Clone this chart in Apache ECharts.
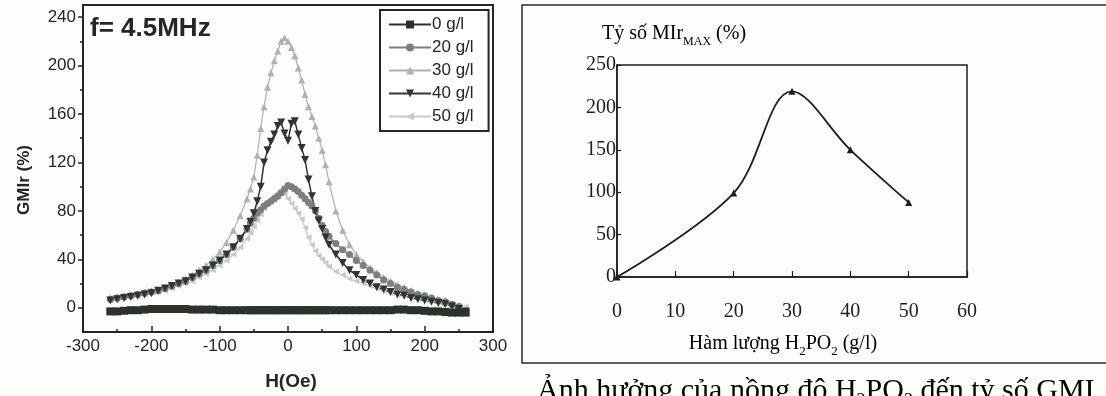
<!DOCTYPE html>
<html>
<head>
<meta charset="utf-8">
<script src="https://cdn.jsdelivr.net/npm/echarts@6/dist/echarts.min.js"></script>
<style>
  html, body { margin: 0; padding: 0; background: #fdfdfc; }
  #c { width: 1106px; height: 396px; }
</style>
</head>
<body>
<div id="c"></div>
<script>
// Magnetic field sweep H (Oe), shared by every GMI curve
const fieldH = [-260,-250,-240,-230,-220,-210,-200,-190,-180,-170,-160,-150,-140,-130,-120,-110,-100,-90,-80,-70,
  -60,-55,-50,-45,-40,-35,-30,-25,-20,-15,-10,-5,0,5,10,15,20,25,30,35,40,45,50,55,60,
  70,80,90,100,110,120,130,140,150,160,170,180,190,200,210,220,230,240,250,260];

// GMIr (%) for each H2PO2 concentration
const gmi0 = [-3,-3,-2.5,-2,-2,-1.5,-1,-1,-1,-1,-1,-1,-1.5,-1.5,-1.5,-1.5,-2,-2,-2,-2,
  -2,-2,-2,-2,-2,-2,-2,-2,-2,-2,-2,-2,-2,-2,-2,-2,-2,-2,-2,-2,-2,-2,-2,-2,-2,
  -2,-2,-2,-2,-2,-2,-2,-2,-2,-1.5,-1.5,-2,-2,-2.5,-3,-3,-3.5,-4,-4,-4];
const gmi20 = [7,8,9,10,11,12,13,14,16,18,20,22,25,28,31,35,39,44,50,57,
  65,70,74,78,81,84,86,88,90,92,95,98,101,100,98,96,93,90,87,84,80,74,68,63,59,
  53,48,44,39,35,31,27,23,20,17,15,13,11,10,8,6,5,3,1,-3];
const gmi30 = [8,9,10,11,12,13,14,15,17,19,21,24,27,31,35,40,46,54,64,76,
  90,98,108,126,148,166,182,194,204,212,220,223,220,215,208,198,188,176,166,158,150,140,130,118,104,
  80,64,52,44,38,33,29,25,22,19,17,14,12,10,8,6,4,2,0,-2];
const gmi40 = [6,7,8,9,10,11,12,14,16,18,20,22,25,28,31,35,39,44,50,57,
  65,71,78,88,100,120,130,137,143,150,153,144,138,152,154,143,132,122,106,92,80,72,65,58,52,
  44,37,31,27,23,20,17,15,13,11,10,8,7,6,5,4,3,1,-1,-3];
const gmi50 = [6,7,8,9,10,11,12,13,14,16,18,20,22,25,28,31,35,39,44,50,
  57,62,67,72,77,82,86,90,93,95,96,94,90,86,82,78,73,66,58,52,47,43,40,37,34,
  30,27,24,22,20,18,16,14,12,11,10,9,8,7,6,5,4,3,2,1];

const legendNames = ['0 g/l', '20 g/l', '30 g/l', '40 g/l', '50 g/l'];
const gmiMajorTicks = [0, 40, 80, 120, 160, 200, 240];
const gmiMinorTicks = [20, 60, 100, 140, 180, 220];

// Peak ratio MIr_MAX (%) versus H2PO2 content (g/l)
const concentration = [0, 20, 30, 40, 50];
const mirMax = [0, 99, 219, 150, 88];

const INK = '#232622';
const DARK = '#1e1e1e';
const SANS = '"Liberation Sans", Arial, sans-serif';
const SERIF = '"Liberation Serif", "Times New Roman", serif';

const pairs = vals => fieldH.map((h, i) => [h, vals[i]]);

function gmiSeries(name, vals, color, symbol, rotate, size, width) {
  return {
    name, type: 'line', xAxisIndex: 0, yAxisIndex: 0,
    data: pairs(vals),
    symbol, symbolRotate: rotate, symbolSize: size,
    showAllSymbol: true,
    itemStyle: { color },
    lineStyle: { color, width },
    emphasis: { disabled: true },
    animation: false
  };
}

const chart = echarts.init(document.getElementById('c'), null, { renderer: 'canvas' });

chart.setOption({
  backgroundColor: '#fdfdfc',
  animation: false,
  grid: [
    { left: 83, right: 613, top: 5, bottom: 64, show: true, borderColor: INK, borderWidth: 2, backgroundColor: 'transparent' },
    { left: 617, right: 139, top: 65, bottom: 119, show: true, borderColor: DARK, borderWidth: 1.5, backgroundColor: 'transparent' }
  ],
  xAxis: [
    {
      type: 'value', gridIndex: 0, min: -300, max: 300, interval: 100,
      axisLine: { show: true, onZero: false, lineStyle: { color: INK, width: 2 } },
      axisTick: { show: true, inside: true, length: 6, lineStyle: { color: INK, width: 1.5 } },
      minorTick: { show: true, splitNumber: 2, length: 3, lineStyle: { color: INK, width: 1.5 } },
      axisLabel: { fontFamily: SANS, fontSize: 17, color: INK, margin: 6 },
      splitLine: { show: false }
    },
    {
      type: 'value', gridIndex: 1, min: 0, max: 60, interval: 10,
      axisLine: { show: true, onZero: false, lineStyle: { color: DARK, width: 1.5 } },
      axisTick: { show: true, inside: true, length: 6, lineStyle: { color: DARK, width: 1.2 } },
      axisLabel: { fontFamily: SERIF, fontSize: 20, color: DARK, margin: 25 },
      splitLine: { show: false }
    }
  ],
  yAxis: [
    {
      type: 'value', gridIndex: 0, min: -20, max: 250,
      axisLine: { show: true, onZero: false, lineStyle: { color: INK, width: 2 } },
      axisTick: { show: true, length: 5, customValues: gmiMajorTicks, lineStyle: { color: INK, width: 1.5 } },
      axisLabel: { fontFamily: SANS, fontSize: 17, color: INK, margin: 7, customValues: gmiMajorTicks },
      splitLine: { show: false }
    },
    {
      type: 'value', gridIndex: 0, min: -20, max: 250, position: 'left',
      axisLine: { show: false, onZero: false },
      axisTick: { show: true, length: 3, customValues: gmiMinorTicks, lineStyle: { color: INK, width: 1.5 } },
      axisLabel: { show: false },
      splitLine: { show: false }
    },
    {
      type: 'value', gridIndex: 1, min: 0, max: 250, interval: 50,
      axisLine: { show: true, onZero: false, lineStyle: { color: DARK, width: 1.5 } },
      axisTick: { show: true, inside: true, length: 4, lineStyle: { color: DARK, width: 1.2 } },
      axisLabel: { fontFamily: SERIF, fontSize: 20, color: DARK, margin: 1 },
      splitLine: { show: false }
    }
  ],
  legend: {
    data: legendNames, orient: 'vertical', left: 380, top: 10,
    padding: [6, 15, 6, 8], itemGap: 6, itemWidth: 42, itemHeight: 10,
    borderColor: INK, borderWidth: 2, borderRadius: 0, backgroundColor: '#ffffff',
    selectedMode: false,
    textStyle: { fontFamily: SANS, fontSize: 17, color: INK, padding: [0, 0, 0, -4] }
  },
  series: [
    gmiSeries('30 g/l', gmi30, '#adb1b2', 'triangle', 0, 7, 1.2),
    gmiSeries('50 g/l', gmi50, '#c6c9ca', 'triangle', 90, 6, 1.2),
    gmiSeries('20 g/l', gmi20, '#7b807b', 'circle', 0, 7, 1.5),
    gmiSeries('40 g/l', gmi40, '#30362f', 'triangle', 180, 8, 1.5),
    gmiSeries('0 g/l', gmi0, '#2c322b', 'rect', 0, 8, 6),
    {
      name: 'MIr_MAX', type: 'line', xAxisIndex: 1, yAxisIndex: 2,
      data: concentration.map((c, i) => [c, mirMax[i]]),
      smooth: 0.35,
      symbol: 'triangle', symbolSize: 7,
      itemStyle: { color: DARK },
      lineStyle: { color: DARK, width: 1.8 },
      emphasis: { disabled: true },
      animation: false
    }
  ],
  graphic: [
    { type: 'text', left: 90, top: 16, z: 10,
      style: { text: 'f= 4.5MHz', font: 'bold 26px ' + SANS, fill: INK } },
    { type: 'text', x: 24, y: 180, rotation: Math.PI / 2, z: 10,
      style: { text: 'GMIr (%)', font: 'bold 17px ' + SANS, fill: INK, textAlign: 'center', textVerticalAlign: 'middle' } },
    { type: 'text', x: 291, y: 382, z: 10,
      style: { text: 'H(Oe)', font: 'bold 19px ' + SANS, fill: INK, textAlign: 'center', textVerticalAlign: 'middle' } },
    { type: 'rect', z: 1,
      shape: { x: 522, y: 5, width: 620, height: 358 },
      style: { fill: 'none', stroke: '#2a2a2a', lineWidth: 1.5 } },
    { type: 'text', x: 602, y: 20, z: 10,
      style: {
        text: '{a|Tỷ số MIr}{s|MAX}{a| (%)}',
        rich: {
          a: { fontFamily: SERIF, fontSize: 20, color: DARK, lineHeight: 28, verticalAlign: 'middle' },
          s: { fontFamily: SERIF, fontSize: 12, color: DARK, lineHeight: 13, verticalAlign: 'bottom' }
        }
      } },
    { type: 'text', x: 783, y: 330, z: 10,
      style: {
        text: '{a|Hàm lượng H}{s|2}{a|PO}{s|2}{a| (g/l)}',
        textAlign: 'center',
        rich: {
          a: { fontFamily: SERIF, fontSize: 20, color: DARK, lineHeight: 28, verticalAlign: 'middle' },
          s: { fontFamily: SERIF, fontSize: 13, color: DARK, lineHeight: 14, verticalAlign: 'bottom' }
        }
      } },
    { type: 'text', x: 537, y: 372, z: 10,
      style: {
        text: '{a|Ảnh hưởng của nồng độ H}{s|2}{a|PO}{s|2}{a| đến tỷ số GMI}',
        rich: {
          a: { fontFamily: SERIF, fontSize: 30, color: DARK, lineHeight: 38, verticalAlign: 'middle' },
          s: { fontFamily: SERIF, fontSize: 18, color: DARK, lineHeight: 20, verticalAlign: 'bottom' }
        }
      } }
  ]
});
</script>
</body>
</html>
